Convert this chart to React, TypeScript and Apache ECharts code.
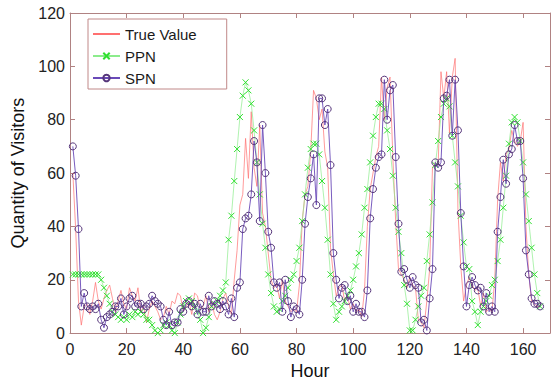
import React, { useEffect, useRef } from "react";
import * as echarts from "echarts";

const trueValue = [
  60, 39, 12, 3, 10, 11, 7, 12, 19, 12,
  9, 13, 16, 18, 13, 8, 12, 16, 11, 9,
  17, 14, 12, 17, 8, 10, 4, 9, 12, 10,
  8, 5, 6, 10, 7, 12, 11, 15, 14, 8,
  10, 12, 7, 15, 14, 9, 10, 14, 8, 12,
  7, 5, 8, 13, 15, 10, 7, 20, 31, 48,
  52, 73, 58, 83, 62, 55, 78, 45, 40, 30,
  20, 17, 18, 13, 20, 12, 10, 8, 9, 8,
  18, 42, 52, 55, 68, 91, 88, 80, 84, 68,
  62, 32, 22, 14, 17, 18, 12, 14, 9, 11,
  8, 9, 6, 16, 40, 54, 60, 66, 70, 96,
  80, 92, 96, 66, 42, 24, 22, 20, 17, 21,
  18, 17, 5, 4, 2, 12, 24, 62, 64, 63,
  98, 88, 98, 75, 96, 103, 46, 25, 12, 18,
  21, 18, 16, 17, 10, 15, 8, 9, 8, 20,
  50, 64, 57, 67, 69, 76, 72, 70, 72, 79,
  40, 22, 12, 11, 10, 10,
];

const ppn = [
  22, 22, 22, 22, 22, 22, 22, 22, 22, 22,
  20, 17, 14, 11, 8, 7, 6, 5, 6, 5,
  7, 6, 8, 7, 8, 7, 5, 5, 3, 1,
  0, 1, 3, 4, 3, 1, 0, 4, 7, 10,
  12, 13, 12, 10, 8, 5, 0, 2, 6, 10,
  11, 12, 14, 16, 19, 35, 44, 57, 69, 81,
  89, 94, 91, 86, 76, 64, 52, 41, 32, 22,
  15, 10, 8, 9, 12, 14, 17, 20, 22, 27,
  32, 42, 52, 62, 69, 71, 71, 67, 57, 47,
  35, 22, 11, 5, 8, 10, 12, 14, 16, 20,
  25, 30, 37, 47, 54, 64, 74, 81, 86, 86,
  84, 76, 69, 59, 47, 38, 30, 18, 11, 1,
  1, 5, 10, 14, 17, 27, 37, 49, 63, 72,
  81, 86, 88, 85, 74, 64, 55, 44, 34, 25,
  24, 12, 8, 3, 8, 10, 12, 14, 18, 20,
  27, 35, 47, 59, 71, 79, 81, 79, 72, 64,
  52, 42, 32, 22, 15, 10,
];

const spn = [
  70, 59, 39, 10, 15, 10, 9, 10, 9, 11,
  5, 2, 6, 7, 8, 10, 10, 13, 7, 10,
  13, 14, 10, 11, 11, 9, 10, 11, 14, 12,
  11, 10, 5, 3, 8, 3, 4, 4, 9, 8,
  11, 12, 10, 11, 7, 11, 8, 8, 14, 10,
  12, 11, 9, 12, 10, 7, 13, 6, 17, 19,
  39, 43, 44, 52, 72, 64, 42, 78, 60, 38,
  32, 19, 17, 19, 8, 20, 12, 6, 10, 9,
  7, 20, 41, 51, 58, 67, 48, 88, 88, 78,
  84, 63, 30, 20, 13, 17, 18, 12, 14, 8,
  11, 8, 8, 6, 16, 43, 54, 62, 66, 67,
  95, 80, 91, 93, 66, 41, 23, 24, 20, 17,
  21, 18, 17, 4, 5, 1, 13, 24, 64, 62,
  64, 88, 89, 95, 74, 95, 76, 45, 25, 10,
  18, 21, 18, 16, 17, 10, 15, 8, 10, 8,
  38, 51, 65, 56, 67, 69, 78, 72, 72, 58,
  31, 22, 13, 11, 11, 10,
];

const seriesNames = ["True Value", "PPN", "SPN"];
const xTitle = "Hour";
const yTitle = "Quantity of Visitors";

const hours = trueValue.map((_, i) => i + 1);
const pairs = (vals: number[]) => vals.map((v, i) => [hours[i], v]);

const FONT = "Liberation Sans, Arial, sans-serif";
const AXIS_COLOR = "#b08282";
const X_SYMBOL = "path://M0,0L10,10M10,0L0,10";

export default function App() {
  const ref = useRef<HTMLDivElement>(null);
  useEffect(() => {
    if (!ref.current) return;
    const chart = echarts.init(ref.current, undefined, { renderer: "svg" });
    const axisLine = { show: true, onZero: false, lineStyle: { color: AXIS_COLOR, width: 1 } };
    const axisTick = { show: true, inside: true, length: 5, lineStyle: { color: AXIS_COLOR } };
    const xCommon = { type: "value", min: 0, max: 169.5, interval: 20, splitLine: { show: false } };
    const yCommon = { type: "value", min: 0, max: 120, interval: 20, splitLine: { show: false } };
    chart.setOption({
      animation: false,
      backgroundColor: "#ffffff",
      textStyle: { fontFamily: FONT },
      grid: { left: 70, right: 3, top: 13, bottom: 44, containLabel: false },
      legend: {
        orient: "vertical",
        left: 88,
        top: 19,
        padding: [4, 30, 0, 4],
        itemWidth: 27,
        itemHeight: 8,
        itemGap: 0,
        borderColor: "#c08888",
        borderWidth: 1,
        backgroundColor: "#ffffff",
        textStyle: { fontSize: 15, color: "#1a1a1a", lineHeight: 22, fontFamily: FONT },
        data: [
          { name: seriesNames[0], itemStyle: { opacity: 0 } },
          { name: seriesNames[1] },
          { name: seriesNames[2] },
        ],
      },
      xAxis: [
        {
          ...xCommon,
          position: "bottom",
          axisLine,
          axisTick,
          axisLabel: { color: "#222", fontSize: 16, margin: 8, showMaxLabel: false, fontFamily: FONT },
          name: xTitle,
          nameLocation: "middle",
          nameGap: 27,
          nameTextStyle: { fontSize: 18, color: "#111", fontFamily: FONT },
        },
        {
          ...xCommon,
          position: "top",
          axisLine,
          axisTick,
          axisLabel: { show: false },
        },
      ],
      yAxis: [
        {
          ...yCommon,
          position: "left",
          axisLine,
          axisTick,
          axisLabel: { color: "#222", fontSize: 16, margin: 5, fontFamily: FONT },
          name: yTitle,
          nameLocation: "middle",
          nameGap: 38,
          nameTextStyle: { fontSize: 18, color: "#111", fontFamily: FONT },
        },
        {
          ...yCommon,
          position: "right",
          axisLine,
          axisTick,
          axisLabel: { show: false },
        },
      ],
      series: [
        {
          name: seriesNames[0],
          type: "line",
          data: pairs(trueValue),
          symbol: "none",
          itemStyle: { color: "#ff7a7a" },
          lineStyle: { color: "#ff7070", width: 0.7 },
          z: 2,
        },
        {
          name: seriesNames[1],
          type: "line",
          data: pairs(ppn),
          symbol: X_SYMBOL,
          symbolSize: 6,
          showAllSymbol: true,
          itemStyle: { color: "none", borderColor: "#2fe02f", borderWidth: 1 },
          lineStyle: { color: "#8cec8c", width: 0.7 },
          z: 3,
        },
        {
          name: seriesNames[2],
          type: "line",
          data: pairs(spn),
          symbol: "circle",
          symbolSize: 7,
          showAllSymbol: true,
          itemStyle: { color: "rgba(0,0,0,0)", borderColor: "#55357a", borderWidth: 1 },
          lineStyle: { color: "#6a4ab8", width: 0.9 },
          z: 4,
        },
      ],
    });
    return () => chart.dispose();
  }, []);
  return (
    <div
      ref={ref}
      style={{ position: "fixed", left: 0, top: 0, width: 553, height: 385, background: "#fff" }}
    />
  );
}
